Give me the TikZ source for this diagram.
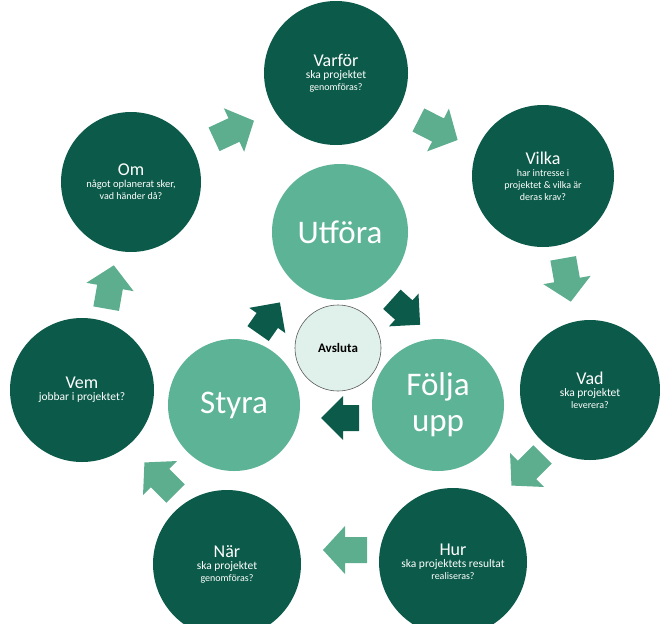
\documentclass[tikz,border=0pt]{standalone}
\usepackage{fontspec}
\setmainfont{Carlito}
\definecolor{darkg}{HTML}{0C5B4A}
\definecolor{innerg}{HTML}{5DB396}
\definecolor{arrg}{HTML}{5CAE8F}
\definecolor{avsl}{HTML}{E0F1EB}
\newcommand{\ttlfont}{\fontsize{18}{20}\selectfont}
\newcommand{\subfont}{\fontsize{11.5}{13}\selectfont}
\tikzset{
  outer/.style={circle, fill=darkg, text=white, align=center, inner sep=0pt, minimum size=#1},
  inner/.style={circle, fill=innerg, text=white, align=center, inner sep=0pt, minimum size=#1,
    font=\fontsize{33}{36}\selectfont},
  pics/blockarrow/.style n args={4}{code={
    \fill[pic actions] (-#1/2,-#3/2) -- (#1/2-#2,-#3/2) -- (#1/2-#2,-#4/2) -- (#1/2,0)
      -- (#1/2-#2,#4/2) -- (#1/2-#2,#3/2) -- (-#1/2,#3/2) -- cycle;
  }},
  outarr/.style={fill=arrg},
  inarr/.style={fill=darkg}
}
\begin{document}
\begin{tikzpicture}[x=1pt,y=-1pt]
\useasboundingbox (0,0) rectangle (660,623);
\clip (0,0) rectangle (660,623);
\fill[white] (0,0) rectangle (660,623);
% outer circles
\node[outer=144pt] (varfor) at (336,73) {\ttlfont Varför\\\subfont ska projektet\\genomföras?};
\node[outer=142pt] (vilka) at (543,176) {\ttlfont Vilka\\\fontsize{10}{11.5}\selectfont har intresse i\\projektet \& vilka är\\deras krav?};
\node[outer=140pt] (vad) at (590,390) {\ttlfont Vad\\\subfont ska projektet\\leverera?};
\node[outer=148pt] (hur) at (453,562) {\ttlfont Hur\\\subfont ska projektets resultat\\realiseras?};
\node[outer=148pt] (nar) at (227,564) {\ttlfont När\\\subfont ska projektet\\genomföras?};
\node[outer=144pt] (vem) at (82,390) {\ttlfont Vem\\\subfont jobbar i projektet?};
\node[outer=140pt] (om) at (131,182) {\ttlfont Om\\\fontsize{10.5}{12}\selectfont något oplanerat sker,\\vad händer då?};
% inner circles
\node[inner=136pt] (utfora) at (340,232) {Utföra};
\node[inner=132pt] (folja) at (438,405) {Följa\\upp};
\node[inner=132pt] (styra) at (234,405) {Styra};
\node[circle, fill=avsl, draw=black!65, line width=0.6pt, minimum size=86pt, inner sep=0pt,
  font=\fontsize{13}{15}\selectfont\bfseries] (avsluta) at (338,348) {Avsluta};
% outer arrows
\pic[outarr, rotate=25] (a1) at (234,130) {blockarrow={44}{22}{26}{48}};
\pic[outarr, rotate=-27] (a2) at (438,130) {blockarrow={44}{22}{26}{48}};
\pic[outarr, rotate=-80] (a3) at (567,280) {blockarrow={44}{22}{26}{48}};
\pic[outarr, rotate=-135] (a4) at (527,470) {blockarrow={44}{22}{26}{48}};
\pic[outarr, rotate=180] (a5) at (345,550) {blockarrow={44}{22}{26}{48}};
\pic[outarr, rotate=135] (a6) at (160,478) {blockarrow={44}{22}{26}{48}};
\pic[outarr, rotate=80] (a7) at (110,287) {blockarrow={44}{22}{26}{48}};
% inner arrows
\pic[inarr, rotate=55] (b1) at (269,318) {blockarrow={38}{22}{26}{44}};
\pic[inarr, rotate=-42] (b2) at (406,312) {blockarrow={38}{22}{26}{44}};
\pic[inarr, rotate=180] (b3) at (340,418) {blockarrow={38}{22}{26}{44}};
\end{tikzpicture}
\end{document}
